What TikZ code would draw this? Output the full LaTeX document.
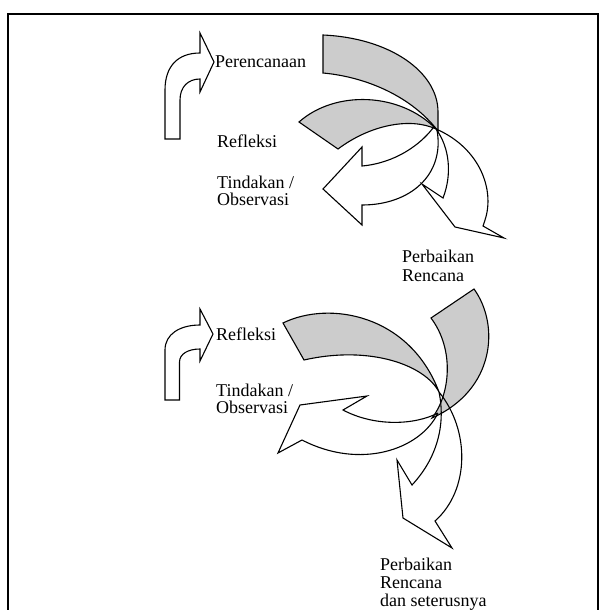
\documentclass[tikz,border=0pt]{standalone}
\usepackage{fontspec}
\setmainfont{Liberation Serif}
\begin{document}
\begin{tikzpicture}[x=1pt,y=-1pt,
  band/.style={draw=black,line width=1.1pt,fill={rgb,255:red,204;green,204;blue,204},line join=miter},
  arr/.style={draw=black,line width=1.1pt,line join=miter},
  lbl/.style={anchor=base west,inner sep=0pt,font=\fontsize{18}{18}\selectfont}]
\useasboundingbox (0,0) rectangle (606,610);
% frame
\draw[line width=1.3pt] (8,610) -- (8,14) -- (598,14) -- (598,610);

% ===== top cycle =====
\draw[arr] (165,139) -- (165,90) .. controls (165,66) and (178,53) .. (200,53) -- (200,33) -- (214,62) -- (200,92) -- (200,79) .. controls (188,79) and (180,87) .. (180,100) -- (180,139) -- cycle;
\node[lbl] (t1) at (215,67) {Perencanaan};
\node[lbl] (t2) at (217,147) {Refleksi};
\node[lbl] (t3a) at (217,188) {Tindakan /};
\node[lbl] (t3b) at (217,205) {Observasi};
\node[lbl] (t4a) at (402,262) {Perbaikan};
\node[lbl] (t4b) at (402,281) {Rencana};

% gray band A
\draw[band] (323,35) .. controls (390,38) and (438,72) .. (438,112) -- (438,131) .. controls (412,97) and (367,77) .. (323,73) -- cycle;
% gray band B
\draw[band] (299,122) .. controls (335,90) and (400,92) .. (436,129) .. controls (410,117) and (370,125) .. (338,149) -- cycle;
% arrow C (left)
\draw[arr] (437,130) .. controls (445,175) and (410,205) .. (362,205) -- (362,225) -- (323,189) -- (362,147) -- (362,166) .. controls (395,163) and (420,145) .. (433,128);
% arrow D (down right)
\draw[arr] (436,129) .. controls (480,148) and (495,190) .. (485,220) -- (483,226) -- (504,238) -- (455,227) -- (422,184) -- (443,198) .. controls (452,175) and (450,148) .. (436,129);

% ===== bottom cycle =====
\draw[arr] (165,400) -- (165,350) .. controls (165,334) and (180,325) .. (200,325) -- (200,309) -- (213,334) -- (200,361) -- (200,349) .. controls (188,349) and (179.5,354) .. (179.5,362) -- (179.5,400) -- cycle;
\node[lbl] (b1) at (216,340) {Refleksi};
\node[lbl] (b2a) at (216,396) {Tindakan /};
\node[lbl] (b2b) at (216,413) {Observasi};
\node[lbl] (b3a) at (380,570) {Perbaikan};
\node[lbl] (b3b) at (380,588) {Rencana};
\node[lbl] (b3c) at (380,606) {dan seterusnya};

% gray band E
\draw[band] (283,323) .. controls (330,300) and (410,315) .. (439,392) .. controls (425,365) and (370,345) .. (304,360) -- cycle;
% gray band F
\draw[band] (474,289) .. controls (500,325) and (495,390) .. (432,418) .. controls (450,395) and (455,350) .. (431,318) -- cycle;
% arrow C2 (left down)
\draw[arr] (438,413) .. controls (420,450) and (360,470) .. (302,440) -- (278,453) -- (300,405) -- (367,396) -- (343,410) .. controls (375,427) and (415,425) .. (438,413);
% arrow D2 (down)
\draw[arr] (439,392) .. controls (470,430) and (470,490) .. (435,521) -- (452,548) -- (403,518) -- (397,460) -- (412,485) .. controls (440,455) and (445,420) .. (439,392);
\end{tikzpicture}
\end{document}
